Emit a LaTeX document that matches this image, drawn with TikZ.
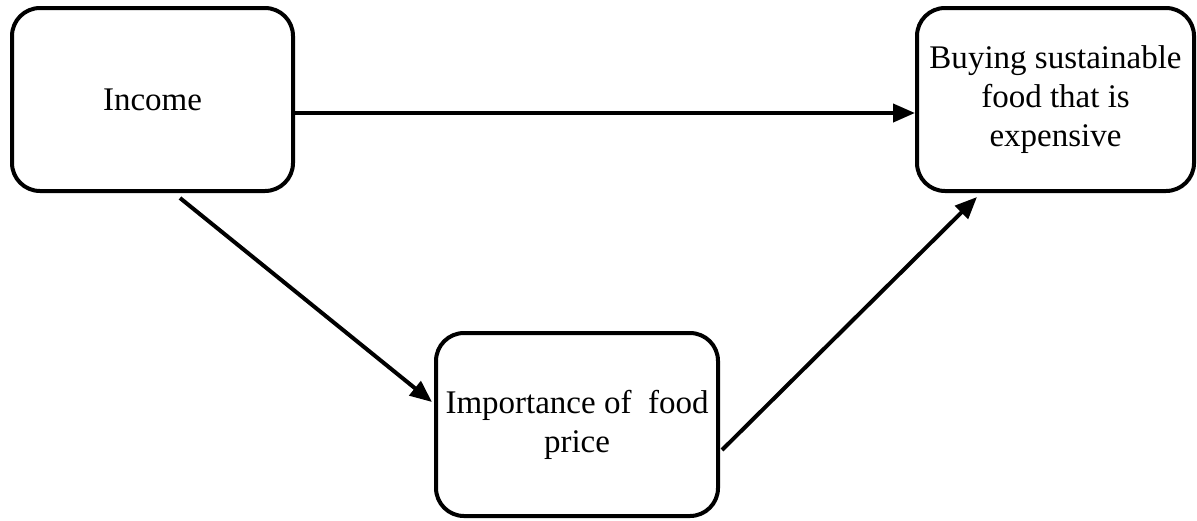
\documentclass[tikz,border=0pt]{standalone}
\usepackage{fontspec}
\setmainfont{Liberation Serif}
\usetikzlibrary{arrows.meta}
\begin{document}
\begin{tikzpicture}[x=0.5pt,y=-0.5pt,
  box/.style={draw, line width=2pt, rounded corners=14pt, align=center,
    inner sep=0pt, font=\fontsize{16.5}{19.5}\selectfont},
  link/.style={line width=2pt, -{Triangle[length=11pt,width=9pt]}}]
  \useasboundingbox (0,0) rectangle (1197,520);
  \node[box, minimum width=140.5pt, minimum height=91.5pt] (income) at (152.5,99.5) {Income};
  \node[box, minimum width=138.5pt, minimum height=91.5pt] (buying) at (1055.5,99.5)
    {Buying sustainable\\food that is\\expensive};
  \node[box, minimum width=141pt, minimum height=91.5pt] (price) at (577,424.5)
    {Importance of\ \ food\\price};
  \draw[link] ([yshift=-6.75pt]income.east) -- ([yshift=-6.75pt]buying.west);
  \draw[link] ([xshift=13.75pt,yshift=-2.5pt]income.south) -- ([xshift=-1pt,yshift=11.25pt]price.west);
  \draw[link] ([xshift=1pt,yshift=-12.75pt]price.east) -- ([xshift=-39.25pt,yshift=-2pt]buying.south);
\end{tikzpicture}
\end{document}
